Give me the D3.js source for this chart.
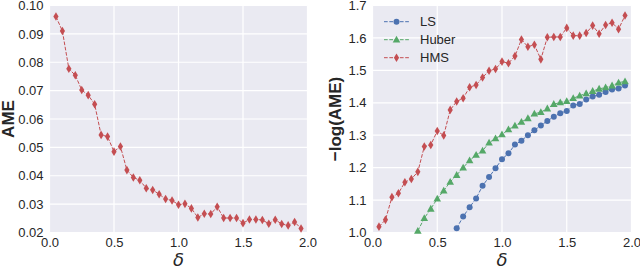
<!DOCTYPE html>
<html><head><meta charset="utf-8">
<script src="https://cdn.jsdelivr.net/npm/d3@7"></script>
<style>body{margin:0;background:#fff}svg{display:block}</style>
</head><body>
<script>
const delta = [0.05,0.10,0.15,0.20,0.25,0.30,0.35,0.40,0.45,0.50,0.55,0.60,0.65,0.70,0.75,0.80,0.85,0.90,0.95,1.00,1.05,1.10,1.15,1.20,1.25,1.30,1.35,1.40,1.45,1.50,1.55,1.60,1.65,1.70,1.75,1.80,1.85,1.90,1.95];
const ameHMS = [0.0961,0.0910,0.0777,0.0754,0.0702,0.0684,0.0652,0.0544,0.0538,0.0485,0.0503,0.0420,0.0394,0.0384,0.0356,0.0350,0.0335,0.0318,0.0313,0.0298,0.0301,0.0285,0.0253,0.0266,0.0265,0.0291,0.0251,0.0251,0.0251,0.0233,0.0246,0.0246,0.0244,0.0231,0.0245,0.0230,0.0225,0.0237,0.0214];
const nlogHMS = [1.018,1.039,1.109,1.121,1.155,1.165,1.187,1.265,1.270,1.313,1.299,1.378,1.404,1.414,1.448,1.455,1.478,1.499,1.504,1.527,1.522,1.544,1.595,1.573,1.579,1.534,1.602,1.603,1.603,1.631,1.607,1.607,1.615,1.638,1.613,1.640,1.647,1.627,1.669];
const deltaHuber = delta.slice(6);
const nlogHuber = [1.005,1.044,1.073,1.104,1.129,1.156,1.177,1.200,1.222,1.239,1.252,1.277,1.290,1.302,1.318,1.329,1.341,1.352,1.366,1.371,1.382,1.396,1.401,1.405,1.414,1.422,1.429,1.436,1.443,1.447,1.453,1.462,1.466];
const deltaLS = delta.slice(12);
const nlogLS = [1.013,1.049,1.078,1.105,1.144,1.171,1.198,1.226,1.244,1.271,1.283,1.300,1.315,1.330,1.344,1.357,1.368,1.375,1.392,1.396,1.410,1.419,1.425,1.433,1.441,1.444,1.453];
const xTicks = [0.0,0.5,1.0,1.5,2.0];
const yTicksL = [0.02,0.03,0.04,0.05,0.06,0.07,0.08,0.09,0.10];
const yTicksR = [1.0,1.1,1.2,1.3,1.4,1.5,1.6,1.7];
const legendNames = ["LS","Huber","HMS"];

const colors = {LS:"#4C72B0", Huber:"#55A868", HMS:"#C44E52"};
const W=640,H=267;
const svg=d3.select("body").append("svg").attr("width",W).attr("height",H);
const font="'Liberation Sans', Arial, sans-serif";
const txt="#262626";

function marker(g, type, x, y){
  const c=colors[type];
  if(type==="LS") g.append("circle").attr("cx",x).attr("cy",y).attr("r",3).attr("fill",c);
  else if(type==="Huber") g.append("path").attr("d",`M${x},${y-4}L${x+3.8},${y+2.8}L${x-3.8},${y+2.8}Z`).attr("fill",c);
  else g.append("path").attr("d",`M${x},${y-4.3}L${x+2.6},${y}L${x},${y+4.3}L${x-2.6},${y}Z`).attr("fill",c);
}

function panel(x0,x1,y0,y1,yDomain,yTicks,yFmt,ylabel,ylabelX){
  const x=d3.scaleLinear().domain([0,2]).range([x0,x1]);
  const y=d3.scaleLinear().domain(yDomain).range([y1,y0]);
  const g=svg.append("g");
  g.append("rect").attr("x",x0).attr("y",y0).attr("width",x1-x0).attr("height",y1-y0).attr("fill","#EAEAF2");
  g.selectAll(".vg").data(xTicks).enter().append("line").attr("x1",d=>x(d)).attr("x2",d=>x(d)).attr("y1",y0).attr("y2",y1).attr("stroke","#fff").attr("stroke-width",1.2);
  g.selectAll(".hg").data(yTicks).enter().append("line").attr("y1",d=>y(d)).attr("y2",d=>y(d)).attr("x1",x0).attr("x2",x1).attr("stroke","#fff").attr("stroke-width",1.2);
  const xa=g.append("g").attr("transform",`translate(0,${y1})`).call(d3.axisBottom(x).tickValues(xTicks).tickFormat(d3.format(".1f")).tickSize(0).tickPadding(5));
  const ya=g.append("g").attr("transform",`translate(${x0},0)`).call(d3.axisLeft(y).tickValues(yTicks).tickFormat(yFmt).tickSize(0).tickPadding(6));
  [xa,ya].forEach(a=>{a.select(".domain").remove();a.selectAll("text").attr("font-family",font).attr("font-size",13).attr("fill",txt);});
  g.append("text").attr("x",(x0+x1)/2).attr("y",266).attr("text-anchor","middle").attr("font-family","'DejaVu Sans', sans-serif").attr("font-style","italic").attr("font-size",18).attr("fill",txt).text("δ");
  g.append("text").attr("transform",`translate(${ylabelX},${(y0+y1)/2}) rotate(-90)`).attr("text-anchor","middle").attr("font-family",font).attr("font-weight","bold").attr("font-size",17).attr("fill",txt).text(ylabel);
  return {x,y,g};
}

function series(p,xs,ys,type){
  const c=colors[type];
  const pts=xs.map((d,i)=>[d,ys[i]]);
  p.g.append("path").datum(pts).attr("d",d3.line().x(d=>p.x(d[0])).y(d=>p.y(d[1]))).attr("fill","none").attr("stroke",c).attr("stroke-width",1).attr("stroke-dasharray","3.7,1.6");
  const mg=p.g.append("g");
  pts.forEach(d=>marker(mg,type,p.x(d[0]),p.y(d[1])));
}

const L=panel(49.5,307.5,5.5,232.5,[0.02,0.10],yTicksL,d3.format(".2f"),"AME",14);
series(L,delta,ameHMS,"HMS");

const R=panel(372.5,631.5,5.5,232.5,[1.0,1.7],yTicksR,d3.format(".1f"),"−log(AME)",341);
series(R,deltaLS,nlogLS,"LS");
series(R,deltaHuber,nlogHuber,"Huber");
series(R,delta,nlogHMS,"HMS");

const lg=svg.append("g");
legendNames.forEach((n,i)=>{
  const yy=21.7+i*18;
  lg.append("line").attr("x1",384).attr("x2",409).attr("y1",yy).attr("y2",yy).attr("stroke",colors[n]).attr("stroke-width",1).attr("stroke-dasharray","3.7,1.6");
  marker(lg,n,396.5,yy);
  lg.append("text").attr("x",420).attr("y",yy).attr("dy","0.36em").attr("font-family",font).attr("font-size",13).attr("fill",txt).text(n);
});
</script>
</body></html>
